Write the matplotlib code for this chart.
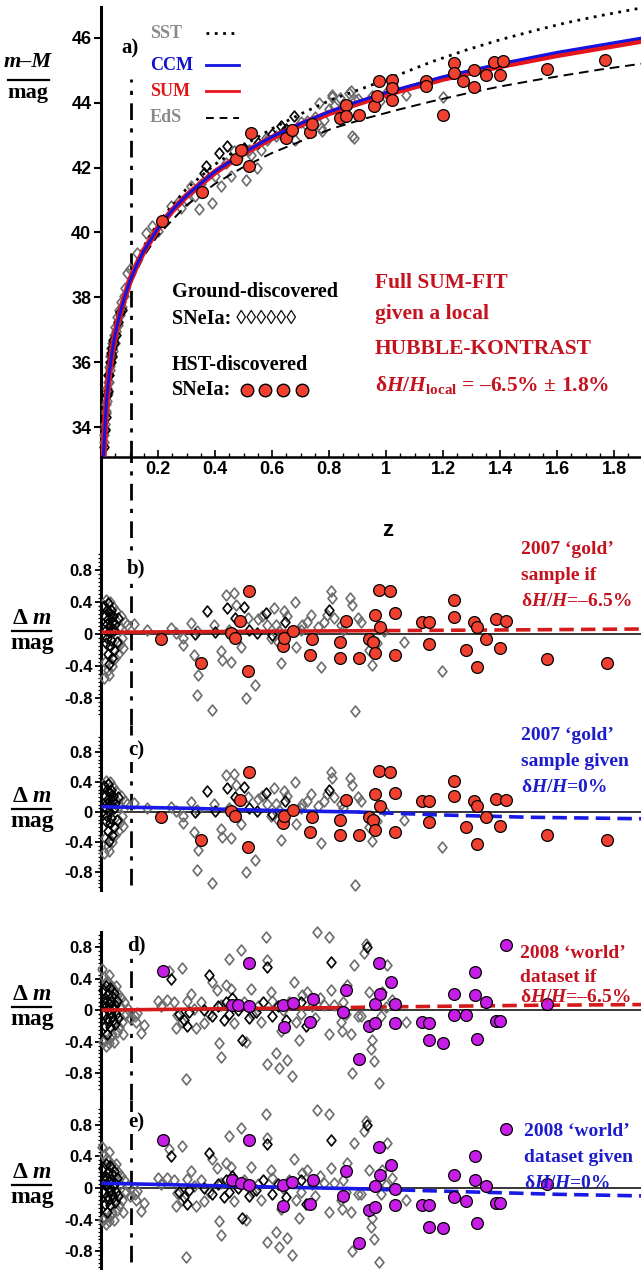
import numpy as np
import matplotlib
matplotlib.use('Agg')
import matplotlib.pyplot as plt
import matplotlib.ticker as ticker
from matplotlib.lines import Line2D
from matplotlib.path import Path

W, H = 641, 1271

#### panel a: model curves (z, m-M)
curve_z = [0.008, 0.01, 0.015, 0.02, 0.025, 0.03, 0.04, 0.05, 0.06, 0.07, 0.08, 0.1, 0.125, 0.15,
           0.2, 0.25, 0.3, 0.4, 0.5, 0.6, 0.7, 0.8, 0.9, 1.0, 1.2, 1.4, 1.6, 1.895]
ccm_mu = [32.85, 33.33, 34.22, 34.85, 35.34, 35.74, 36.37, 36.87, 37.27, 37.62, 37.92, 38.48, 38.99, 39.43,
          40.13, 40.69, 41.14, 41.88, 42.46, 42.95, 43.36, 43.72, 44.03, 44.31, 44.80, 45.20, 45.55, 45.99]
sum_mu = [32.85, 33.33, 34.22, 34.85, 35.34, 35.74, 36.37, 36.87, 37.27, 37.62, 37.92, 38.48, 38.99, 39.43,
          40.13, 40.68, 41.13, 41.86, 42.44, 42.92, 43.32, 43.68, 43.98, 44.26, 44.74, 45.13, 45.47, 45.91]
alt_z = [0.008, 0.01, 0.015, 0.02, 0.03, 0.04, 0.05, 0.07, 0.1, 0.15, 0.2, 0.3, 0.4, 0.5, 0.6, 0.7,
         0.81, 0.93, 1.05, 1.16, 1.28, 1.4, 1.52, 1.63, 1.75, 1.895]
sst_mu = [32.86, 33.34, 34.23, 34.87, 35.77, 36.41, 36.92, 37.69, 38.58, 39.57, 40.3, 41.35, 42.1, 42.68,
          43.2, 43.65, 44.1, 44.48, 44.88, 45.26, 45.62, 45.94, 46.22, 46.46, 46.68, 46.92]
eds_mu = [32.84, 33.32, 34.2, 34.84, 35.72, 36.35, 36.84, 37.58, 38.37, 39.27, 39.92, 40.84, 41.5, 42.02,
          42.45, 42.81, 43.2, 43.52, 43.8, 44.04, 44.28, 44.5, 44.69, 44.85, 45.02, 45.2]

# ground-discovered (gray / black diamonds) and HST (red circles), (z, m-M)
a_gray = np.array([
  [0.010, 33.55], [0.012, 33.75], [0.013, 34.1], [0.015, 33.95], [0.016, 34.45], [0.018, 34.7], [0.019, 34.5],
  [0.021, 34.8], [0.022, 35.2], [0.024, 35.4], [0.025, 35.05], [0.027, 35.4], [0.028, 35.85], [0.030, 35.9],
  [0.032, 35.75], [0.033, 36.2], [0.036, 36.45], [0.038, 36.15], [0.040, 36.6], [0.042, 36.35], [0.045, 36.85],
  [0.048, 36.6], [0.050, 37.1], [0.053, 36.95], [0.056, 37.4], [0.060, 37.15], [0.063, 37.6], [0.067, 37.45],
  [0.069, 37.85], [0.075, 37.7], [0.080, 38.05], [0.085, 38.3], [0.092, 38.76], [0.100, 38.86], [0.127, 39.38],
  [0.157, 39.99], [0.180, 40.19], [0.200, 40.05], [0.245, 40.81], [0.274, 40.96], [0.28, 40.75], [0.30, 41.0],
  [0.315, 41.42], [0.33, 41.12], [0.344, 40.71], [0.35, 41.5], [0.39, 40.91], [0.40, 41.75], [0.42, 41.42],
  [0.44, 42.15], [0.455, 41.73], [0.467, 42.5], [0.48, 42.3], [0.508, 41.63], [0.52, 42.55], [0.525, 42.4],
  [0.548, 41.99], [0.56, 42.55], [0.58, 42.9], [0.584, 42.86], [0.613, 42.96], [0.64, 43.1], [0.68, 42.86],
  [0.70, 43.4], [0.72, 43.31], [0.724, 43.43], [0.75, 43.55], [0.765, 43.99], [0.771, 43.22], [0.777, 43.12],
  [0.782, 43.48], [0.80, 43.8], [0.81, 44.19], [0.812, 44.25], [0.818, 43.89], [0.84, 44.14], [0.85, 43.95],
  [0.87, 44.3], [0.876, 44.35], [0.882, 42.96], [0.888, 42.91], [0.89, 44.09], [0.90, 44.1], [0.95, 44.2],
  [0.964, 43.89], [0.98, 44.05], [1.0, 44.3], [1.07, 44.25], [1.2, 44.19]])
a_black = np.array([
  [0.011, 33.4], [0.014, 33.9], [0.017, 34.3], [0.020, 35.0], [0.023, 35.1], [0.026, 35.6], [0.029, 35.6],
  [0.031, 36.0], [0.034, 36.0], [0.035, 36.3], [0.037, 36.2], [0.039, 36.45], [0.043, 36.7], [0.046, 36.6],
  [0.052, 36.85], [0.058, 37.25], [0.065, 37.55], [0.072, 37.6], [0.361, 41.84], [0.37, 42.04], [0.414, 42.45],
  [0.443, 42.66], [0.50, 42.6], [0.55, 42.75], [0.60, 43.05], [0.63, 43.27], [0.65, 43.2], [0.677, 43.58]])
a_hst = np.array([
  [0.215, 40.35], [0.355, 41.24], [0.475, 42.28], [0.49, 42.55], [0.519, 42.04], [0.525, 43.07], [0.648, 42.91],
  [0.67, 43.17], [0.735, 43.1], [0.74, 43.35], [0.84, 43.53], [0.86, 43.94], [0.86, 43.58], [0.905, 43.63],
  [0.958, 43.89], [0.97, 44.2], [0.975, 44.66], [1.02, 44.7], [1.02, 44.45], [1.02, 44.09], [1.14, 44.66],
  [1.14, 44.5], [1.2, 43.63], [1.24, 45.22], [1.24, 44.91], [1.27, 44.66], [1.31, 45.02], [1.31, 44.48],
  [1.35, 44.86], [1.38, 45.27], [1.40, 44.86], [1.41, 45.29], [1.566, 45.04], [1.77, 45.32]])

#### panels b, c: 2007 gold sample residuals (z, dm)
gold_gray = np.array([
  [0.010, -0.55], [0.014, -0.35], [0.018, 0.42], [0.023, -0.45], [0.027, -0.52], [0.032, 0.40], [0.037, -0.40],
  [0.043, 0.33], [0.048, -0.30], [0.052, 0.28], [0.058, -0.25], [0.062, 0.08], [0.066, -0.13], [0.070, 0.22],
  [0.075, -0.05], [0.078, -0.18], [0.085, 0.15], [0.092, 0.11], [0.116, 0.12], [0.163, 0.05], [0.244, 0.07],
  [0.262, 0.01], [0.289, -0.14], [0.289, -0.05], [0.315, 0.13], [0.327, -0.26], [0.338, 0.03], [0.34, -0.51],
  [0.336, -0.77], [0.391, -0.95], [0.396, 0.11], [0.42, -0.22], [0.426, -0.33], [0.437, 0.49], [0.45, 0.05],
  [0.457, -0.35], [0.467, 0.51], [0.472, 0.36], [0.49, -0.16], [0.508, -0.80], [0.516, 0.20], [0.542, -0.64],
  [0.55, 0.18], [0.566, 0.22], [0.584, 0.11], [0.595, -0.05], [0.607, 0.32], [0.613, 0.11], [0.62, -0.10],
  [0.625, 0.03], [0.63, -0.37], [0.642, 0.28], [0.654, 0.22], [0.681, 0.40], [0.683, -0.16], [0.70, 0.05],
  [0.706, 0.11], [0.724, 0.15], [0.736, 0.24], [0.76, 0.08], [0.771, -0.41], [0.782, 0.15], [0.794, 0.24],
  [0.808, 0.53], [0.812, 0.45], [0.818, 0.20], [0.841, 0.11], [0.85, 0.05], [0.874, 0.45], [0.882, 0.36],
  [0.89, -0.97], [0.90, 0.20], [0.911, 0.15], [0.94, -0.20], [0.952, -0.39], [0.97, -0.12], [0.993, 0.03],
  [1.063, -0.10], [1.198, -0.47]])
gold_black = np.array([
  [0.012, 0.35], [0.015, 0.22], [0.016, 0.05], [0.018, -0.12], [0.020, 0.30], [0.021, 0.12], [0.022, -0.05],
  [0.024, 0.18], [0.025, -0.25], [0.026, 0.38], [0.028, 0.02], [0.029, -0.38], [0.030, 0.25], [0.031, -0.15],
  [0.033, 0.10], [0.034, 0.30], [0.036, -0.08], [0.038, 0.15], [0.040, -0.30], [0.042, 0.22], [0.045, 0.05],
  [0.047, -0.20], [0.050, 0.12], [0.055, -0.10], [0.060, 0.20], [0.33, 0.0], [0.373, 0.28], [0.40, 0.02],
  [0.443, 0.32], [0.47, 0.20], [0.50, 0.34], [0.52, 0.05], [0.549, 0.01], [0.578, 0.26], [0.60, -0.02],
  [0.645, 0.15], [0.80, 0.30]])
gold_hst = np.array([
  [0.21, -0.06], [0.35, -0.37], [0.455, 0.01], [0.47, -0.05], [0.487, 0.16], [0.515, -0.47], [0.52, 0.53],
  [0.64, -0.15], [0.642, -0.05], [0.673, 0.03], [0.74, -0.06], [0.735, -0.26], [0.84, -0.10], [0.84, -0.30],
  [0.86, 0.16], [0.905, -0.30], [0.94, -0.07], [0.955, -0.10], [0.96, -0.24], [0.96, 0.24], [0.975, 0.55],
  [0.98, 0.08], [1.015, 0.53], [1.03, 0.26], [1.03, -0.27], [1.127, 0.15], [1.15, 0.15], [1.15, -0.13],
  [1.24, 0.42], [1.24, 0.21], [1.28, -0.20], [1.31, 0.15], [1.32, 0.08], [1.32, -0.42], [1.35, -0.06],
  [1.385, 0.18], [1.40, -0.18], [1.42, 0.16], [1.564, -0.31], [1.775, -0.37]])

#### panels d, e: 2008 world dataset residuals (z, dm)
world_gray = np.array([
  [0.005, 0.52], [0.008, -0.40], [0.011, 0.42], [0.013, -0.38], [0.016, 0.36], [0.019, -0.45], [0.023, 0.35],
  [0.027, -0.42], [0.029, 0.45], [0.032, -0.35], [0.036, 0.30], [0.040, -0.30], [0.044, 0.26], [0.047, -0.40],
  [0.052, 0.30], [0.055, -0.28], [0.058, 0.20], [0.062, -0.22], [0.065, 0.05], [0.070, 0.15], [0.072, -0.15],
  [0.078, -0.30], [0.082, 0.10], [0.088, -0.05], [0.095, 0.02], [0.10, -0.10], [0.12, -0.08], [0.122, -0.15],
  [0.127, -0.04], [0.14, -0.29], [0.151, -0.19], [0.20, 0.12], [0.21, 0.05], [0.233, 0.13], [0.238, 0.49],
  [0.255, 0.10], [0.262, -0.23], [0.268, -0.06], [0.285, 0.53], [0.285, -0.15], [0.297, -0.87], [0.303, 0.11],
  [0.315, 0.21], [0.326, 0.02], [0.332, -0.23], [0.35, 0.10], [0.361, -0.17], [0.38, -0.05], [0.391, 0.36],
  [0.408, 0.25], [0.414, -0.42], [0.42, 0.06], [0.42, -0.59], [0.437, 0.32], [0.449, 0.65], [0.455, 0.27],
  [0.467, -0.17], [0.49, 0.76], [0.50, 0.10], [0.508, -0.40], [0.525, 0.27], [0.53, -0.05], [0.55, 0.05],
  [0.56, -0.15], [0.578, 0.93], [0.584, 0.63], [0.584, -0.68], [0.595, 0.23], [0.60, 0.12], [0.613, -0.55],
  [0.625, -0.74], [0.63, -0.27], [0.64, 0.0], [0.654, -0.63], [0.66, 0.10], [0.671, -0.84], [0.677, 0.36],
  [0.683, -0.15], [0.695, -0.38], [0.70, -0.05], [0.706, 0.19], [0.724, 0.23], [0.74, 0.05], [0.75, -0.10],
  [0.759, 0.99], [0.77, 0.15], [0.782, 0.06], [0.80, 0.93], [0.80, -0.30], [0.808, 0.25], [0.818, 0.06],
  [0.841, -0.15], [0.847, -0.27], [0.85, 0.10], [0.86, -0.05], [0.864, 0.32], [0.876, -0.30], [0.882, -0.80],
  [0.888, 0.57], [0.90, -0.08], [0.911, -0.08], [0.923, 0.72], [0.929, 0.84], [0.94, 0.23], [0.946, -0.49],
  [0.952, -0.38], [0.958, -0.65], [0.975, -0.93], [0.981, -0.08], [0.987, 0.23], [0.999, 0.04], [1.005, 0.57],
  [1.022, 0.13], [1.069, -0.15]])
world_black = np.array([
  [0.008, 0.25], [0.010, 0.10], [0.012, -0.05], [0.014, 0.15], [0.015, -0.20], [0.017, 0.05], [0.018, 0.30],
  [0.020, -0.10], [0.021, 0.12], [0.022, -0.30], [0.024, 0.0], [0.025, 0.20], [0.026, -0.15], [0.028, 0.08],
  [0.030, -0.05], [0.031, 0.28], [0.033, -0.22], [0.035, 0.10], [0.037, -0.08], [0.039, 0.18], [0.041, -0.12],
  [0.043, 0.02], [0.046, 0.22], [0.048, -0.18], [0.050, 0.06], [0.053, -0.05], [0.056, 0.12], [0.060, -0.10],
  [0.244, 0.40], [0.273, -0.05], [0.29, -0.12], [0.30, -0.20], [0.31, -0.02], [0.36, 0.0], [0.379, 0.44],
  [0.39, -0.08], [0.41, 0.05], [0.43, -0.12], [0.44, 0.10], [0.45, -0.05], [0.46, 0.15], [0.48, 0.0],
  [0.496, -0.38], [0.52, -0.10], [0.543, -0.02], [0.57, 0.10], [0.584, 0.55], [0.60, -0.08], [0.62, 0.05],
  [0.65, -0.12], [0.70, 0.10], [0.72, -0.20], [0.806, 0.61], [0.935, 0.80]])
world_hst_d = np.array([
  [0.216, 0.50], [0.46, 0.07], [0.48, 0.06], [0.52, 0.60], [0.52, 0.05], [0.64, 0.06], [0.642, -0.21],
  [0.672, 0.09], [0.744, 0.14], [0.735, -0.15], [0.85, -0.03], [0.86, 0.26], [0.905, -0.62], [0.94, -0.20],
  [0.96, -0.17], [0.962, 0.08], [0.976, 0.60], [0.98, 0.21], [1.016, 0.35], [1.03, 0.08], [1.03, -0.16],
  [1.127, -0.15], [1.15, -0.17], [1.15, -0.38], [1.20, -0.42], [1.24, 0.21], [1.24, -0.06], [1.28, -0.06],
  [1.313, 0.48], [1.313, 0.19], [1.32, -0.37], [1.35, 0.10], [1.385, -0.14], [1.40, -0.14], [1.42, 0.82],
  [1.564, 0.08]])
world_hst_e = np.array([
  [0.216, 0.60], [0.46, 0.10], [0.49, 0.06], [0.52, 0.60], [0.52, 0.04], [0.64, 0.04], [0.64, -0.23],
  [0.67, 0.07], [0.744, 0.10], [0.735, -0.20], [0.85, -0.10], [0.86, 0.21], [0.905, -0.69], [0.94, -0.28],
  [0.96, -0.24], [0.962, 0.02], [0.976, 0.52], [0.98, 0.16], [1.016, 0.29], [1.03, -0.01], [1.03, -0.22],
  [1.127, -0.22], [1.15, -0.22], [1.15, -0.49], [1.20, -0.51], [1.24, 0.16], [1.24, -0.11], [1.28, -0.17],
  [1.313, 0.40], [1.313, 0.10], [1.32, -0.44], [1.35, 0.02], [1.385, -0.19], [1.40, -0.19], [1.42, 0.74],
  [1.564, 0.05]])

# reference model lines in the residual panels
b_line_z = [0.008, 0.5, 1.0]
b_line = [0.02, 0.03, 0.04]
b_dash_z = [1.0, 1.5, 1.895]
b_dash = [0.04, 0.05, 0.06]
c_line_z = [0.008, 0.3, 0.6, 0.9]
c_line = [0.07, 0.05, 0.02, 0.0]
c_dash_z = [0.9, 1.2, 1.5, 1.895]
c_dash = [0.0, -0.04, -0.07, -0.09]
d_line_z = [0.008, 0.5, 0.8]
d_line = [0.0, 0.02, 0.03]
d_dash_z = [0.8, 1.0, 1.5, 1.895]
d_dash = [0.03, 0.04, 0.06, 0.07]
e_line_z = [0.008, 0.5, 0.9]
e_line = [0.06, 0.02, -0.01]
e_dash_z = [0.9, 1.0, 1.3, 1.6, 1.895]
e_dash = [-0.01, -0.02, -0.05, -0.08, -0.10]

z_cut = 0.105   # dash-dot vertical line
a_xticks = [0.2, 0.4, 0.6, 0.8, 1.0, 1.2, 1.4, 1.6, 1.8]
a_xlabels = ['0.2', '0.4', '0.6', '0.8', '1', '1.2', '1.4', '1.6', '1.8']
a_yticks = [34, 36, 38, 40, 42, 44, 46]
r_yticks = [0.8, 0.4, 0, -0.4, -0.8]
r_ylabels = ['0.8', '0.4', '0', '-0.4', '-0.8']

#### styles
serif = ['Liberation Serif', 'DejaVu Serif']
narrow = ['Liberation Sans Narrow', 'Liberation Sans', 'DejaVu Sans']
plt.rcParams['mathtext.fontset'] = 'custom'
plt.rcParams['mathtext.rm'] = 'Liberation Serif:bold'
plt.rcParams['mathtext.it'] = 'Liberation Serif:italic:bold'
plt.rcParams['mathtext.bf'] = 'Liberation Serif:bold'

RED_TXT = '#c4121f'
BLUE_TXT = '#1c1ccc'
GRAY_TXT = '#8a8a8a'
DIA_GRAY = '#6c6c6c'
HST_RED = '#f0402f'
MAGENTA = '#c61ee6'

dia = Path([(0, 1), (0.82, 0), (0, -1), (-0.82, 0), (0, 1)],
           [Path.MOVETO, Path.LINETO, Path.LINETO, Path.LINETO, Path.CLOSEPOLY])


def rect(top, bottom, left=101):
  return [left / W, 1 - bottom / H, (W - left) / W, (bottom - top) / H]


def fx(px):
  return px / W


def fy(py):
  return 1 - py / H


def diamonds(ax, pts, color):
  ax.plot(pts[:, 0], pts[:, 1], ls='none', marker=dia, ms=7.8, mfc='none', mec=color,
          mew=1.2, clip_on=False, zorder=3)


def circles(ax, pts, color):
  ax.plot(pts[:, 0], pts[:, 1], ls='none', marker='o', ms=8.5, mfc=color, mec='black',
          mew=0.9, clip_on=False, zorder=5)


def base_axes(ax, ylim):
  ax.set_xlim(0, 540 / 285)
  ax.set_ylim(*ylim)
  for s in ['top', 'right', 'bottom']:
    ax.spines[s].set_visible(False)
  ax.spines['left'].set_linewidth(2.2)
  ax.patch.set_alpha(0)


fig = plt.figure(figsize=(W / 100, H / 100), dpi=100)
letter_box = dict(facecolor='white', edgecolor='none', pad=1.0)

#### panel a
ax = fig.add_axes(rect(7, 457))
base_axes(ax, (33.08, 46.95))
ax.spines['bottom'].set_visible(True)
ax.spines['bottom'].set_linewidth(1.8)
ax.set_xticks(a_xticks, labels=a_xlabels, fontfamily=narrow, fontweight='bold', fontsize=13)
ax.xaxis.set_minor_locator(ticker.MultipleLocator(0.05))
ax.tick_params(axis='x', which='major', direction='in', length=5, width=1.2, pad=3)
ax.tick_params(axis='x', which='minor', direction='in', length=3, width=1)
ax.set_yticks(a_yticks, labels=[str(v) for v in a_yticks], fontfamily=narrow, fontweight='bold', fontsize=13)
ax.tick_params(axis='y', direction='out', length=5, width=1.5, pad=2)
ax.axvline(z_cut, ymin=0, ymax=0.84, color='black', lw=2, ls=(0, (6, 3, 1.5, 3)))
diamonds(ax, a_gray, DIA_GRAY)
diamonds(ax, a_black, 'black')
ax.plot(alt_z, sst_mu, color='black', lw=2, ls=(0, (1, 2)), zorder=4)
ax.plot(alt_z, eds_mu, color='black', lw=1.4, ls=(0, (5, 3)), zorder=4)
ax.plot(curve_z, sum_mu, color='#e8141c', lw=4.5, zorder=4)
ax.plot(curve_z, ccm_mu, color='#1414e0', lw=2.2, zorder=4)
circles(ax, a_hst, HST_RED)

# legend of model lines
leg = [('SST', GRAY_TXT, dict(color='black', lw=2, ls=(0, (1, 2))), 33),
       ('CCM', '#1010d0', dict(color='#1414e0', lw=2), 65),
       ('SUM', '#e01818', dict(color='#e8141c', lw=2), 91),
       ('EdS', GRAY_TXT, dict(color='black', lw=1.4, ls=(0, (4, 3))), 118)]
for name, col, style, py in leg:
  fig.text(fx(150), fy(py), name, color=col, fontfamily=serif, fontweight='bold', fontsize=13,
           ha='left', va='center')
  fig.add_artist(Line2D([fx(206), fx(239)], [fy(py), fy(py)], **style))
fig.text(fx(130), fy(48), 'a)', fontfamily=serif, fontweight='bold', fontsize=15, ha='center', va='center',
         bbox=letter_box)

fig.text(fx(172), fy(292), 'Ground-discovered', fontfamily=serif, fontweight='bold', fontsize=14.5,
         ha='left', va='center')
fig.text(fx(172), fy(319), 'SNeIa: \u25CA\u25CA\u25CA\u25CA\u25CA\u25CA', fontfamily=serif,
         fontweight='bold', fontsize=14.5, ha='left', va='center')
fig.text(fx(172), fy(365), 'HST-discovered', fontfamily=serif, fontweight='bold', fontsize=14.5,
         ha='left', va='center')
fig.text(fx(172), fy(390), 'SNeIa:', fontfamily=serif, fontweight='bold', fontsize=14.5,
         ha='left', va='center')
for px in [247, 265, 283, 302]:
  fig.add_artist(Line2D([fx(px)], [fy(390)], ls='none', marker='o', ms=9, mfc=HST_RED, mec='black', mew=1))

red_block = ['Full SUM-FIT', 'given a local', 'HUBBLE-KONTRAST',
             '\u03b4$H$/$H$$_{\\mathrm{local}}$ = \u20136.5% \u00b1 1.8%']
for txt, py in zip(red_block, [283, 314, 349, 385]):
  fig.text(fx(375), fy(py), txt, color=RED_TXT, fontfamily=serif, fontweight='bold', fontsize=15.5,
           ha='left', va='center')

fig.text(fx(388), fy(530), 'z', fontfamily=['Liberation Sans', 'DejaVu Sans'], fontweight='bold',
         fontsize=16, ha='center', va='center')

# y label of panel a
fig.text(fx(28), fy(62), 'm\u2013M', fontfamily=serif, fontweight='bold', fontstyle='italic',
         fontsize=16, ha='center', va='center')
fig.add_artist(Line2D([fx(8), fx(49)], [fy(80), fy(80)], color='black', lw=1.6))
fig.text(fx(28), fy(93), 'mag', fontfamily=serif, fontweight='bold', fontsize=16, ha='center', va='center')


#### residual panels
def residual_panel(top, bottom, ylim, zero_px, vline_span, gray, black, hst, hst_col,
                   line_z, line_v, dash_z, dash_v, line_col, label, notes, note_col, note_x, note_y):
  ax = fig.add_axes(rect(top, bottom))
  base_axes(ax, ylim)
  ax.set_xticks([])
  ax.set_yticks(r_yticks, labels=r_ylabels, fontfamily=narrow, fontweight='bold', fontsize=12)
  minor = [v / 100 for v in range(-100, 101, 5) if v % 40 != 0]
  ax.yaxis.set_minor_locator(ticker.FixedLocator(minor))
  ax.tick_params(axis='y', which='major', direction='out', length=4, width=1.3, pad=2)
  ax.tick_params(axis='y', which='minor', direction='out', length=2.5, width=0.9)
  ax.axvline(z_cut, ymin=vline_span[0], ymax=vline_span[1], color='black', lw=2, ls=(0, (6, 3, 1.5, 3)))
  ax.axhline(0, color='black', lw=1.1, zorder=2)
  diamonds(ax, gray, DIA_GRAY)
  diamonds(ax, black, 'black')
  ax.plot(line_z, line_v, color=line_col, lw=2.6, zorder=4)
  ax.plot(dash_z, dash_v, color=line_col, lw=2.6, ls=(0, (4, 2)), zorder=4)
  circles(ax, hst, hst_col)
  # panel letter and axis label
  fig.text(fx(136), fy(top + (ylim[1] - 0.82) * (bottom - top) / (ylim[1] - ylim[0])), label,
           fontfamily=serif, fontweight='bold', fontsize=15, ha='center', va='center', bbox=letter_box,
           zorder=6)
  fig.text(fx(32), fy(zero_px - 16), '\u0394 $m$', fontfamily=serif, fontweight='bold', fontsize=17,
           ha='center', va='center')
  fig.add_artist(Line2D([fx(12), fx(51)], [fy(zero_px - 3), fy(zero_px - 3)], color='black', lw=1.6))
  fig.text(fx(32), fy(zero_px + 10), 'mag', fontfamily=serif, fontweight='bold', fontsize=17,
           ha='center', va='center')
  for txt, py in zip(notes, note_y):
    fig.text(fx(note_x), fy(py), txt, color=note_col, fontfamily=serif, fontweight='bold', fontsize=14,
             ha='left', va='center')
  return ax


residual_panel(457, 725, (-1.14, 2.21), 634, (0, 1), gold_gray, gold_black, gold_hst, HST_RED,
               b_line_z, b_line, b_dash_z, b_dash, '#d41a1a', 'b)',
               ['2007 \u2018gold\u2019', 'sample if', '\u03b4$H$/$H$=\u20136.5%'], RED_TXT, 521, [550, 576, 602])
residual_panel(725, 890, (-1.04, 1.16), 812, (0.03, 1), gold_gray, gold_black, gold_hst, HST_RED,
               c_line_z, c_line, c_dash_z, c_dash, '#1a1ae6', 'c)',
               ['2007 \u2018gold\u2019', 'sample given', '\u03b4$H$/$H$=0%'], BLUE_TXT, 521, [735, 761, 788])
residual_panel(932, 1100, (-1.14, 0.99), 1010, (0, 0.91), world_gray, world_black, world_hst_d, MAGENTA,
               d_line_z, d_line, d_dash_z, d_dash, '#d41a1a', 'd)',
               ['2008 \u2018world\u2019', 'dataset if', '\u03b4$H$/$H$=\u20136.5%'], RED_TXT, 520, [953, 977, 997])
residual_panel(1100, 1268, (-1.01, 1.11), 1188, (0.035, 1), world_gray, world_black, world_hst_e, MAGENTA,
               e_line_z, e_line, e_dash_z, e_dash, '#1a1ae6', 'e)',
               ['2008 \u2018world\u2019', 'dataset given', '\u03b4$H$/$H$=0%'], BLUE_TXT, 524, [1131, 1157, 1183])

fig.savefig('out.png', dpi=100)
